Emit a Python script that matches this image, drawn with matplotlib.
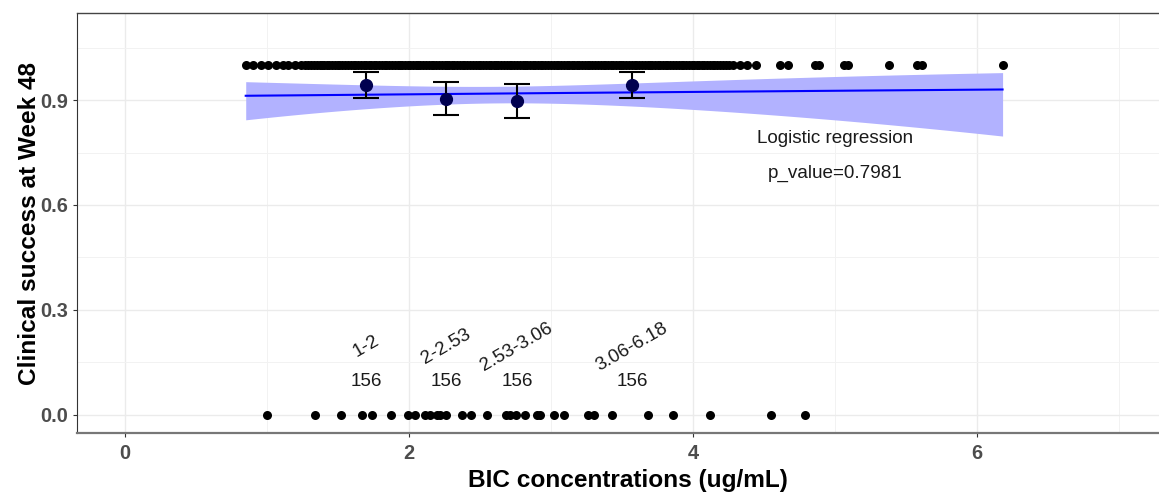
import numpy as np
import matplotlib
matplotlib.use('Agg')
import matplotlib.pyplot as plt

plt.rcParams['font.family'] = ['Liberation Sans', 'DejaVu Sans']

# BIC concentration of each patient with clinical success (outcome = 1)
SUCCESS_X = [
    0.85, 0.90, 0.96, 1.01, 1.06, 1.11, 1.15, 1.20, 1.24, 1.27, 1.29, 1.31,
    1.33, 1.35, 1.37, 1.39, 1.40, 1.42, 1.44, 1.46, 1.48, 1.50, 1.51, 1.53,
    1.55, 1.57, 1.59, 1.61, 1.62, 1.64, 1.66, 1.68, 1.70, 1.72, 1.73, 1.75,
    1.77, 1.79, 1.81, 1.83, 1.84, 1.86, 1.88, 1.90, 1.92, 1.94, 1.95, 1.97,
    1.99, 2.01, 2.03, 2.05, 2.06, 2.08, 2.10, 2.12, 2.14, 2.16, 2.17, 2.19,
    2.21, 2.23, 2.25, 2.27, 2.28, 2.30, 2.32, 2.34, 2.36, 2.38, 2.39, 2.41,
    2.43, 2.45, 2.47, 2.49, 2.50, 2.52, 2.54, 2.56, 2.58, 2.60, 2.61, 2.63,
    2.65, 2.67, 2.69, 2.71, 2.72, 2.74, 2.76, 2.78, 2.80, 2.82, 2.83, 2.85,
    2.87, 2.89, 2.91, 2.93, 2.94, 2.96, 2.98, 3.00, 3.02, 3.04, 3.05, 3.07,
    3.09, 3.11, 3.13, 3.15, 3.16, 3.18, 3.20, 3.22, 3.24, 3.26, 3.27, 3.29,
    3.31, 3.33, 3.35, 3.37, 3.38, 3.40, 3.42, 3.44, 3.46, 3.48, 3.49, 3.51,
    3.53, 3.55, 3.57, 3.59, 3.60, 3.62, 3.64, 3.66, 3.68, 3.70, 3.71, 3.73,
    3.75, 3.77, 3.79, 3.81, 3.82, 3.84, 3.86, 3.88, 3.90, 3.92, 3.93, 3.95,
    3.97, 3.99, 4.01, 4.03, 4.04, 4.06, 4.08, 4.10, 4.12, 4.14, 4.15, 4.17,
    4.19, 4.21, 4.23, 4.25, 4.28, 4.33, 4.38, 4.44, 4.61, 4.67, 4.86, 4.89,
    5.06, 5.09, 5.38, 5.58, 5.61, 6.18,
]

# BIC concentration of each patient without clinical success (outcome = 0)
FAILURE_X = [
    1.00, 1.34, 1.52, 1.67, 1.74, 1.87, 1.99, 2.04, 2.11, 2.15, 2.20, 2.22,
    2.26, 2.37, 2.44, 2.55, 2.68, 2.71, 2.75, 2.82, 2.90, 2.92, 3.02, 3.09,
    3.26, 3.30, 3.43, 3.68, 3.86, 4.12, 4.55, 4.79,
]

# quartile bins: mean concentration, responders, bin size
BIN_LABELS = ['1-2', '2-2.53', '2.53-3.06', '3.06-6.18']
BIN_MEAN_X = [1.70, 2.26, 2.76, 3.57]
BIN_SUCCESS = [147, 141, 140, 147]
BIN_N = [156, 156, 156, 156]

# logistic fit on the logit scale (coef + standard error around centre)
INTERCEPT = 2.30
SLOPE = 0.0465
SE_CENTER = 2.60
SE_0 = 0.16
SE_SLOPE = 0.168
P_VALUE = 0.7981

TEXT_SIZE = 13.6


def logistic(z):
    return 1.0 / (1.0 + np.exp(-z))


fig = plt.figure(figsize=(11.59, 4.93), dpi=100)
# right edge of the panel runs past the figure border
ax = fig.add_axes([0.0662, 0.1211, 0.952, 0.8519])

# fitted curve with 95% band
xs = np.linspace(min(SUCCESS_X + FAILURE_X), max(SUCCESS_X + FAILURE_X), 200)
eta = INTERCEPT + SLOPE * xs
se = np.sqrt(SE_0 ** 2 + (SE_SLOPE * (xs - SE_CENTER)) ** 2)
ax.fill_between(xs, logistic(eta - 1.96 * se), logistic(eta + 1.96 * se),
                color='#b2b2ff', linewidth=0, zorder=2)
ax.plot(xs, logistic(eta), color='#0000ff', linewidth=1.5, zorder=3)

# raw outcomes
ax.plot(SUCCESS_X, [1] * len(SUCCESS_X), 'o', color='black',
        markersize=6.5, markeredgewidth=0, zorder=4)
ax.plot(FAILURE_X, [0] * len(FAILURE_X), 'o', color='black',
        markersize=6.5, markeredgewidth=0, zorder=4)

# observed proportion per bin with Wald interval
p = np.array(BIN_SUCCESS) / np.array(BIN_N)
half = 1.96 * np.sqrt(p * (1 - p) / np.array(BIN_N))
ax.errorbar(BIN_MEAN_X, p, yerr=half, fmt='o', color='#000050',
            ecolor='black', elinewidth=1.5, capsize=9.7, capthick=1.5,
            markersize=8.5, zorder=5)

for x, lab, n in zip(BIN_MEAN_X, BIN_LABELS, BIN_N):
    ax.text(x, 0.195, lab, rotation=30, ha='center', va='center',
            fontsize=TEXT_SIZE, color='#1a1a1a', rotation_mode='anchor')
    ax.text(x, 0.097, str(n), ha='center', va='center',
            fontsize=TEXT_SIZE, color='#1a1a1a')

ax.text(5.0, 0.789, 'Logistic regression', ha='center', va='center',
        fontsize=TEXT_SIZE, color='#1a1a1a')
ax.text(5.0, 0.691, 'p_value=%.4f' % P_VALUE, ha='center', va='center',
        fontsize=TEXT_SIZE, color='#1a1a1a')

ax.set_xlim(-0.34, 7.43)
ax.set_ylim(-0.0523, 1.1477)
ax.set_xticks([0, 2, 4, 6])
ax.set_xticks([1, 3, 5, 7], minor=True)
ax.set_yticks([0.0, 0.3, 0.6, 0.9])
ax.set_yticklabels(['0.0', '0.3', '0.6', '0.9'])
ax.set_yticks([0.15, 0.45, 0.75, 1.05], minor=True)

ax.grid(which='major', color='#ebebeb', linewidth=1.0, zorder=0)
ax.grid(which='minor', color='#f2f2f2', linewidth=0.7, zorder=0)
ax.set_axisbelow(True)

ax.tick_params(which='major', length=3, width=0.8, color='#333333',
               labelsize=14.4, labelcolor='#4d4d4d')
ax.tick_params(axis='x', which='major', pad=5)
ax.tick_params(axis='y', which='major', pad=3)
ax.tick_params(which='minor', length=0)
for lab in ax.get_xticklabels() + ax.get_yticklabels():
    lab.set_fontweight('bold')

ax.spines['left'].set_color('#333333')
ax.spines['left'].set_linewidth(0.8)
ax.spines['top'].set_color('#444444')
ax.spines['top'].set_linewidth(1.0)
ax.spines['bottom'].set_color('#777777')
ax.spines['bottom'].set_linewidth(1.6)
ax.spines['right'].set_visible(False)

ax.set_xlabel('BIC concentrations (ug/mL)', fontsize=17.6, fontweight='bold',
              labelpad=4)
ax.set_ylabel('Clinical success at Week 48', fontsize=17.6, fontweight='bold',
              labelpad=0)

fig.savefig('out.png', dpi=100)
